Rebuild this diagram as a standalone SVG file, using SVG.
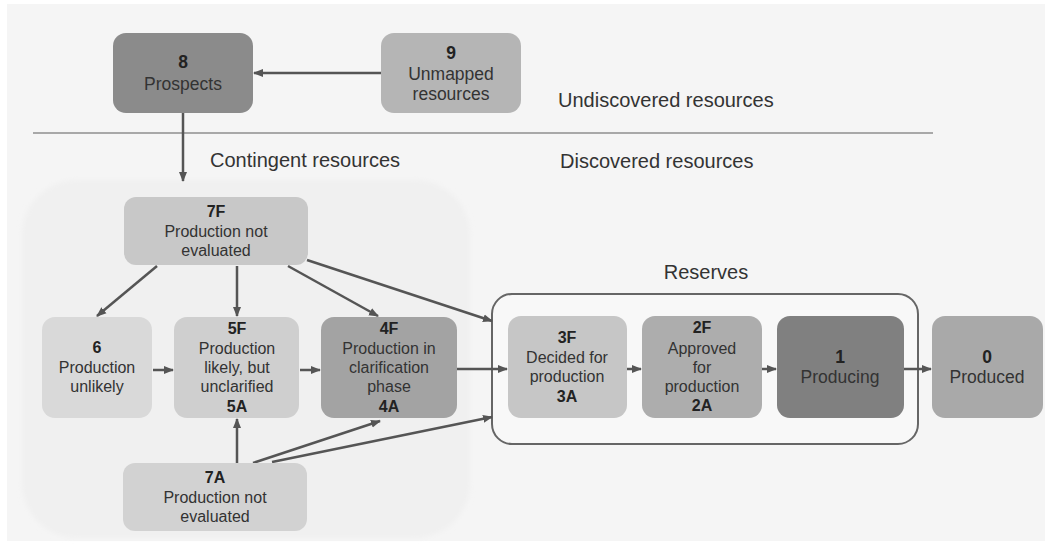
<svg xmlns="http://www.w3.org/2000/svg" width="1045" height="545" viewBox="0 0 1045 545">
<defs>
<marker id="ah" markerUnits="userSpaceOnUse" markerWidth="10" markerHeight="10" viewBox="0 0 10 10" refX="9" refY="5" orient="auto">
<path d="M0,1 L10,5 L0,9 Z" fill="#555"/>
</marker>
<filter id="soft" x="-5%" y="-5%" width="110%" height="110%"><feGaussianBlur stdDeviation="2.5"/></filter>
</defs>
<style>
.n{stroke:none}
.t{font-family:"Liberation Sans",Arial,sans-serif;font-size:16px;fill:#333;text-anchor:middle}
.b{font-weight:bold;fill:#222}
.l{font-size:17.5px}
.h{font-family:"Liberation Sans",Arial,sans-serif;font-size:20px;fill:#333}
.c{stroke:#555;stroke-width:2.5;fill:none;marker-end:url(#ah)}
</style>
<rect x="0" y="0" width="1045" height="545" fill="#ffffff"/>
<rect x="7" y="4" width="1038" height="537" fill="#f5f5f5"/>
<rect id="contingent-area" x="22" y="180" width="448" height="358" rx="55" fill="#f0f0f0" filter="url(#soft)"/>
<line x1="33" y1="133" x2="933" y2="133" stroke="#a8a8a8" stroke-width="2"/>
<text class="h" x="558" y="107">Undiscovered resources</text>
<text class="h" x="560" y="168">Discovered resources</text>
<text class="h" x="210" y="167">Contingent resources</text>
<g id="reserves">
<rect x="492" y="294" width="426" height="150" rx="20" fill="#f8f8f8" stroke="#666" stroke-width="2"/>
<text class="h" x="706" y="279" text-anchor="middle">Reserves</text>
</g>
<g id="connectors">
<line class="c" x1="381" y1="73" x2="254" y2="73"/>
<line class="c" x1="183" y1="113" x2="183" y2="181"/>
<line class="c" x1="157" y1="266" x2="97" y2="316"/>
<line class="c" x1="237" y1="266" x2="237" y2="316"/>
<line class="c" x1="288" y1="266" x2="378" y2="316"/>
<line class="c" x1="307" y1="260" x2="492" y2="321"/>
<line class="c" x1="153" y1="370" x2="173" y2="370"/>
<line class="c" x1="300" y1="370" x2="320" y2="370"/>
<line class="c" x1="457" y1="369" x2="507" y2="369"/>
<line class="c" x1="237" y1="463" x2="237" y2="419"/>
<line class="c" x1="253" y1="463" x2="380" y2="421"/>
<line class="c" x1="272" y1="462" x2="492" y2="417"/>
<line class="c" x1="627" y1="369" x2="641" y2="369"/>
<line class="c" x1="762" y1="369" x2="776" y2="369"/>
<line class="c" x1="904" y1="369" x2="931" y2="369"/>
</g>
<g id="node-8">
<rect class="n" x="113" y="33" width="140" height="80" rx="13" fill="#8b8b8b"/>
<text class="t b l" x="183" y="68">8</text>
<text class="t l" x="183" y="90">Prospects</text>
</g>
<g id="node-9">
<rect class="n" x="381" y="33" width="140" height="80" rx="13" fill="#b5b5b5"/>
<text class="t b l" x="451" y="59">9</text>
<text class="t l" x="451" y="80">Unmapped</text>
<text class="t l" x="451" y="100">resources</text>
</g>
<g id="node-7F">
<rect class="n" x="124" y="197" width="184" height="68" rx="12" fill="#c8c8c8"/>
<text class="t b" x="216" y="217">7F</text>
<text class="t" x="216" y="237">Production not</text>
<text class="t" x="216" y="256">evaluated</text>
</g>
<g id="node-6">
<rect class="n" x="42" y="317" width="110" height="101" rx="13" fill="#d9d9d9"/>
<text class="t b" x="97" y="353">6</text>
<text class="t" x="97" y="373">Production</text>
<text class="t" x="97" y="392">unlikely</text>
</g>
<g id="node-5F">
<rect class="n" x="174" y="317" width="125" height="101" rx="13" fill="#cfcfcf"/>
<text class="t b" x="237" y="334">5F</text>
<text class="t" x="237" y="354">Production</text>
<text class="t" x="237" y="373">likely, but</text>
<text class="t" x="237" y="392">unclarified</text>
<text class="t b" x="237" y="412">5A</text>
</g>
<g id="node-4F">
<rect class="n" x="321" y="317" width="136" height="101" rx="13" fill="#a3a3a3"/>
<text class="t b" x="389" y="334">4F</text>
<text class="t" x="389" y="354">Production in</text>
<text class="t" x="389" y="373">clarification</text>
<text class="t" x="389" y="392">phase</text>
<text class="t b" x="389" y="412">4A</text>
</g>
<g id="node-7A">
<rect class="n" x="123" y="463" width="184" height="68" rx="12" fill="#d2d2d2"/>
<text class="t b" x="215" y="483">7A</text>
<text class="t" x="215" y="503">Production not</text>
<text class="t" x="215" y="522">evaluated</text>
</g>
<g id="node-3F">
<rect class="n" x="508" y="316" width="119" height="102" rx="13" fill="#c6c6c6"/>
<text class="t b" x="567" y="343">3F</text>
<text class="t" x="567" y="363">Decided for</text>
<text class="t" x="567" y="382">production</text>
<text class="t b" x="567" y="402">3A</text>
</g>
<g id="node-2F">
<rect class="n" x="642" y="316" width="120" height="102" rx="13" fill="#adadad"/>
<text class="t b" x="702" y="333">2F</text>
<text class="t" x="702" y="354">Approved</text>
<text class="t" x="702" y="373">for</text>
<text class="t" x="702" y="392">production</text>
<text class="t b" x="702" y="411">2A</text>
</g>
<g id="node-1">
<rect class="n" x="777" y="316" width="127" height="102" rx="13" fill="#808080"/>
<text class="t b l" x="840" y="363">1</text>
<text class="t l" x="840" y="383">Producing</text>
</g>
<g id="node-0">
<rect class="n" x="932" y="316" width="111" height="102" rx="13" fill="#a9a9a9"/>
<text class="t b l" x="987" y="363">0</text>
<text class="t l" x="987" y="383">Produced</text>
</g>
</svg>
